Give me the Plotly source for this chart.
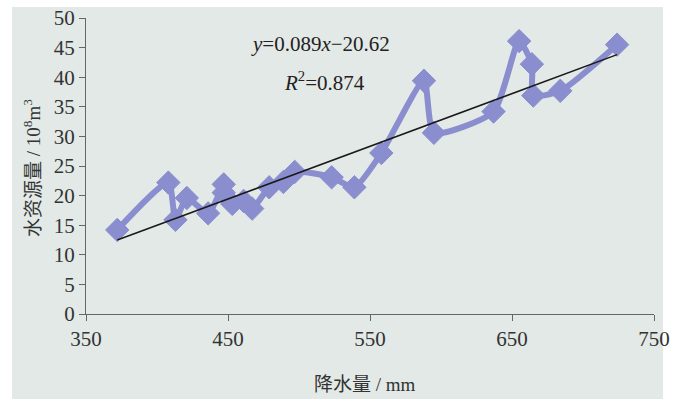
import plotly.graph_objects as go

# Data
precip_mm = [372, 408, 413, 421, 436, 447, 447, 453, 461, 467, 479, 489, 497,
             523, 539, 558, 588, 595, 637, 655, 664, 665, 684, 724]
water_res = [14.2, 22.2, 15.9, 19.6, 17.0, 21.9, 20.5, 18.6, 19.1, 17.8, 21.4,
             22.3, 24.0, 23.1, 21.4, 27.2, 39.4, 30.6, 34.2, 46.1, 42.2, 36.9,
             37.7, 45.5]
slope = 0.089
intercept = -20.62
x_ticks = [350, 450, 550, 650, 750]
y_ticks = [0, 5, 10, 15, 20, 25, 30, 35, 40, 45, 50]

trend_x = [min(precip_mm), max(precip_mm)]
trend_y = [slope * v + intercept for v in trend_x]

BG = "#e2e9e6"
SERIES = "#8a8ecf"
FONT = "Liberation Serif"

W, H = 675, 399
px0, px1, py0, py1 = 86, 654, 18, 314


def xp(p):
    return (p - px0) / (px1 - px0)


def yp(p):
    return (py1 - p) / (py1 - py0)


fig = go.Figure()
fig.add_trace(go.Scatter(
    x=precip_mm, y=water_res, mode="lines+markers",
    line=dict(color=SERIES, width=6, shape="spline", smoothing=0.6),
    marker=dict(symbol="diamond", size=18, color=SERIES,
                line=dict(color=SERIES, width=1)),
    showlegend=False, hoverinfo="x+y"))
fig.add_trace(go.Scatter(
    x=trend_x, y=trend_y, mode="lines",
    line=dict(color="#1a1a1a", width=1.5),
    showlegend=False, hoverinfo="skip"))

fig.add_shape(type="rect", xref="paper", yref="paper",
              x0=xp(12), x1=xp(663), y0=yp(420), y1=yp(7),
              fillcolor=BG, line=dict(width=0), layer="below")

fig.add_annotation(x=xp(320), y=yp(44), xref="paper", yref="paper",
                   xanchor="center", yanchor="middle",
                   text="<i>y</i>=0.089<i>x</i>−20.62", showarrow=False,
                   font=dict(family=FONT, size=21, color="#222"))
fig.add_annotation(x=xp(324), y=yp(81), xref="paper", yref="paper",
                   xanchor="center", yanchor="middle",
                   text="<i>R</i><sup>2</sup>=0.874", showarrow=False,
                   font=dict(family=FONT, size=21, color="#222"))

# axis titles as annotations (mixed CJK + serif)
fig.add_annotation(x=xp(365), y=yp(382), xref="paper", yref="paper",
                   xanchor="center", yanchor="middle",
                   text="<span style='font-family:Noto Sans CJK SC'>降水量</span> / mm",
                   showarrow=False,
                   font=dict(family=FONT, size=19, color="#333"))
fig.add_annotation(x=xp(31), y=yp(168), xref="paper", yref="paper",
                   xanchor="center", yanchor="middle",
                   text="<span style='font-family:Noto Sans CJK SC'>水资源量</span> / 10<sup>8</sup>m<sup>3</sup>",
                   textangle=-90, showarrow=False,
                   font=dict(family=FONT, size=19, color="#333"))

fig.update_layout(
    width=W, height=H,
    margin=dict(l=px0, r=W - px1, t=py0, b=H - py1),
    paper_bgcolor="white", plot_bgcolor=BG,
    font=dict(family=FONT, size=21, color="#333"),
    xaxis=dict(range=[350, 750], tickvals=x_ticks, showgrid=False,
               zeroline=False, showline=True, linecolor="#666", linewidth=1,
               ticks="outside", ticklen=6, tickcolor="#666", automargin=False,
               ticklabeloverflow="allow",
               tickfont=dict(family=FONT, size=21, color="#333")),
    yaxis=dict(range=[0, 50], tickvals=y_ticks, showgrid=False,
               zeroline=False, showline=True, linecolor="#666", linewidth=1,
               ticks="outside", ticklen=6, tickcolor="#666", automargin=False,
               ticklabeloverflow="allow",
               tickfont=dict(family=FONT, size=21, color="#333")),
)

fig.write_html("out.html", config={"displayModeBar": False},
               post_script="document.body.style.margin='0';document.body.style.overflow='hidden';")
